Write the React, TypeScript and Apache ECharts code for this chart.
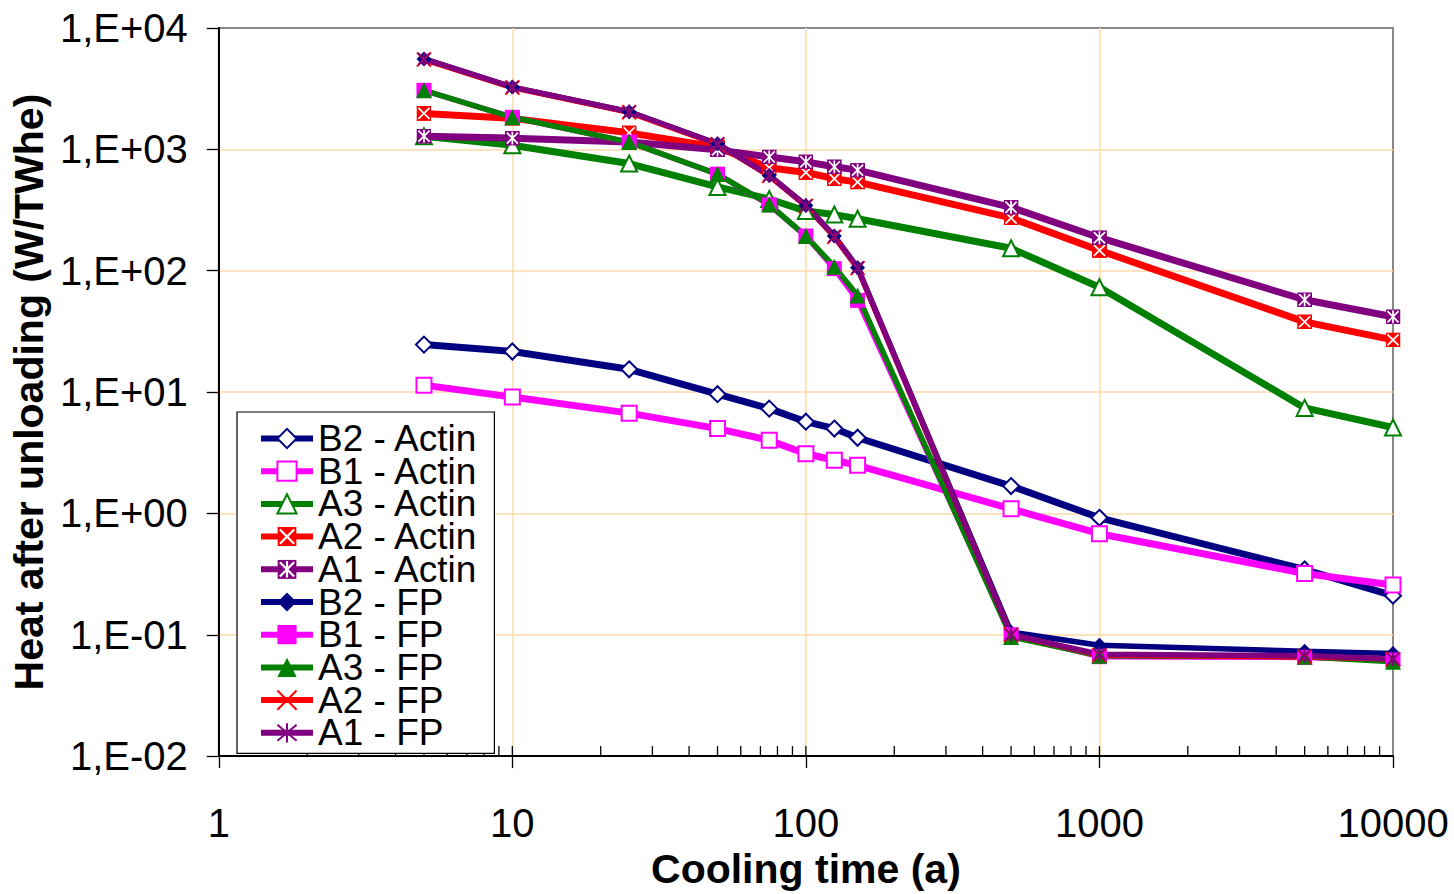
import React, { useEffect, useRef } from 'react';
import * as echarts from 'echarts';

const COOLING_TIME = [5, 10, 25, 50, 75, 100, 125, 150, 500, 1000, 5000, 10000];

const B2_ACTIN = [24.6, 21.6, 15.4, 9.6, 7.3, 5.7, 5.0, 4.2, 1.68, 0.92, 0.345, 0.21];
const B1_ACTIN = [11.4, 9.1, 6.7, 5.0, 4.0, 3.1, 2.74, 2.49, 1.09, 0.68, 0.32, 0.257];
const A3_ACTIN = [1280, 1080, 764, 490, 390, 310, 290, 268, 153, 73, 7.4, 5.1];
const A2_ACTIN = [1978, 1800, 1368, 1040, 705, 645, 573, 537, 272, 147, 37.9, 26.9];
const A1_ACTIN = [1285, 1237, 1148, 990, 866, 789, 718, 674, 333, 187, 57.6, 41.7];
const B2_FP = [5560, 3260, 2040, 1112, 610, 345, 193, 106, 0.105, 0.082, 0.073, 0.07];
const B1_FP = [3064, 1837, 1148, 625, 349, 193, 104, 57, 0.1, 0.066, 0.065, 0.062];
const A3_FP = [3064, 1837, 1148, 625, 352, 193, 108, 62.5, 0.096, 0.067, 0.066, 0.06];
const A2_FP = [5500, 3230, 2020, 1100, 605, 342, 190, 105, 0.1, 0.068, 0.066, 0.063];
const A1_FP = [5560, 3260, 2040, 1112, 610, 345, 193, 106, 0.1, 0.069, 0.067, 0.063];

const SERIES_NAMES = [
  'B2 - Actin', 'B1 - Actin', 'A3 - Actin', 'A2 - Actin', 'A1 - Actin',
  'B2 - FP', 'B1 - FP', 'A3 - FP', 'A2 - FP', 'A1 - FP',
];

const Y_TICK_LABELS = ['1,E-02', '1,E-01', '1,E+00', '1,E+01', '1,E+02', '1,E+03', '1,E+04'];
const Y_MIN_EXP = -2;
const X_TICK_LABELS = ['1', '10', '100', '1000', '10000'];
const X_INSIDE_TICKS = [
  2, 3, 4, 5, 6, 7, 8, 9, 10,
  20, 30, 40, 50, 60, 70, 80, 90, 100,
  200, 300, 400, 500, 600, 700, 800, 900, 1000,
  2000, 3000, 4000, 5000, 6000, 7000, 8000, 9000,
];

const NAVY = '#000080';
const MAGENTA = '#FF00FF';
const GREEN = '#008000';
const RED = '#FF0000';
const PURPLE = '#800080';
const FONT = '"Liberation Sans", Arial, sans-serif';

function svgIcon(bg: string, withVertical: boolean): string {
  const svg =
    `<svg xmlns="http://www.w3.org/2000/svg" width="28" height="28" viewBox="0 0 14 14">` +
    `<rect x="0" y="0" width="14" height="14" fill="${bg}"/>` +
    `<path d="M1.8,1.8L12.2,12.2M12.2,1.8L1.8,12.2${withVertical ? 'M7,1L7,13' : ''}" stroke="#FFFFFF" stroke-width="1.6" fill="none"/>` +
    `</svg>`;
  return 'image://data:image/svg+xml;charset=utf-8,' + encodeURIComponent(svg);
}

const X_PATH = 'path://M0,0L10,10M10,0L0,10';
const STAR_PATH = 'path://M0,0L10,10M10,0L0,10M5,-1L5,11';

function lineSeries(
  name: string,
  values: number[],
  color: string,
  width: number,
  symbol: string,
  symbolSize: number,
  itemStyle: any
) {
  return {
    type: 'line',
    name,
    data: COOLING_TIME.map((t, i) => [t, values[i]]),
    symbol,
    symbolSize,
    showSymbol: true,
    showAllSymbol: true,
    symbolKeepAspect: true,
    lineStyle: { color, width },
    itemStyle,
    emphasis: { disabled: true },
    silent: true,
    clip: false,
  };
}

export default function App() {
  const ref = useRef<HTMLDivElement>(null);

  useEffect(() => {
    if (!ref.current) return;
    const chart = echarts.init(ref.current, undefined, { renderer: 'svg' });
    const open = (c: string) => ({ color: '#FFFFFF', borderColor: c, borderWidth: 2 });
    const filled = (c: string) => ({ color: c, borderColor: c, borderWidth: 0 });
    const stroke = (c: string) => ({ color: c, borderColor: c, borderWidth: 2 });
    const AW = 7;
    const FW = 5.5;

    const series: any[] = [
      lineSeries(SERIES_NAMES[0], B2_ACTIN, NAVY, AW, 'diamond', 16, open(NAVY)),
      lineSeries(SERIES_NAMES[1], B1_ACTIN, MAGENTA, AW, 'rect', 15, open(MAGENTA)),
      lineSeries(SERIES_NAMES[2], A3_ACTIN, GREEN, AW, 'triangle', 16, open(GREEN)),
      lineSeries(SERIES_NAMES[3], A2_ACTIN, RED, AW, svgIcon(RED, false), 15, filled(RED)),
      lineSeries(SERIES_NAMES[4], A1_ACTIN, PURPLE, AW, svgIcon(PURPLE, true), 15, filled(PURPLE)),
      lineSeries(SERIES_NAMES[5], B2_FP, NAVY, FW, 'diamond', 15, filled(NAVY)),
      lineSeries(SERIES_NAMES[6], B1_FP, MAGENTA, FW, 'rect', 15, filled(MAGENTA)),
      lineSeries(SERIES_NAMES[7], A3_FP, GREEN, FW, 'triangle', 16, filled(GREEN)),
      lineSeries(SERIES_NAMES[8], A2_FP, RED, FW, X_PATH, 14, stroke(RED)),
      lineSeries(SERIES_NAMES[9], A1_FP, PURPLE, FW, STAR_PATH, 14, stroke(PURPLE)),
      {
        type: 'custom',
        name: 'inside ticks',
        data: X_INSIDE_TICKS.map((v) => [v, Math.pow(10, Y_MIN_EXP)]),
        silent: true,
        clip: false,
        z: 10,
        renderItem: (_p: any, api: any) => {
          const pt = api.coord([api.value(0), api.value(1)]);
          return {
            type: 'line',
            shape: { x1: pt[0], y1: pt[1], x2: pt[0], y2: pt[1] - 10 },
            style: { stroke: '#000000', lineWidth: 1.3 },
          };
        },
      },
    ];

    chart.setOption({
      animation: false,
      backgroundColor: '#FFFFFF',
      grid: {
        left: 217,
        top: 28,
        right: 61,
        bottom: 130,
        show: true,
        borderColor: '#888888',
        borderWidth: 2,
        backgroundColor: 'transparent',
      },
      legend: {
        orient: 'vertical',
        left: 237,
        top: 412,
        data: SERIES_NAMES,
        backgroundColor: '#FFFFFF',
        borderColor: '#000000',
        borderWidth: 1.2,
        borderRadius: 0,
        padding: [8, 16, 2, 21],
        itemWidth: 52,
        itemHeight: 24,
        itemGap: -4.3,
        selectedMode: false,
        lineStyle: { width: 6 },
        textStyle: { fontFamily: FONT, fontSize: 37, color: '#000000' },
        z: 20,
      },
      xAxis: {
        type: 'log',
        logBase: 10,
        min: 1,
        max: 10000,
        splitNumber: 4,
        name: 'Cooling time (a)',
        nameLocation: 'middle',
        nameGap: 91,
        nameTextStyle: { fontFamily: FONT, fontSize: 41, fontWeight: 'bold', color: '#000000' },
        axisLine: { show: true, onZero: false, lineStyle: { color: '#000000', width: 2 } },
        axisTick: { show: true, inside: false, length: 12, lineStyle: { color: '#000000', width: 1.3 } },
        minorTick: { show: false },
        axisLabel: {
          fontFamily: FONT,
          fontSize: 40,
          color: '#000000',
          margin: 47,
          formatter: (v: number) => X_TICK_LABELS[Math.round(Math.log10(v))] ?? '',
        },
        splitLine: {
          show: true,
          showMinLine: false,
          showMaxLine: false,
          lineStyle: { color: '#FFD9A8', width: 1.5 },
        },
      },
      yAxis: {
        type: 'log',
        logBase: 10,
        min: 0.01,
        max: 10000,
        splitNumber: 6,
        name: 'Heat after unloading (W/TWhe)',
        nameLocation: 'middle',
        nameGap: 167,
        nameTextStyle: { fontFamily: FONT, fontSize: 41, fontWeight: 'bold', color: '#000000' },
        axisLine: { show: true, onZero: false, lineStyle: { color: '#000000', width: 2 } },
        axisTick: { show: true, inside: false, length: 12, lineStyle: { color: '#000000', width: 1.3 } },
        axisLabel: {
          fontFamily: FONT,
          fontSize: 40,
          color: '#000000',
          margin: 31,
          formatter: (v: number) => Y_TICK_LABELS[Math.round(Math.log10(v)) - Y_MIN_EXP] ?? '',
        },
        splitLine: {
          show: true,
          showMinLine: false,
          showMaxLine: false,
          lineStyle: { color: '#FFD9A8', width: 1.5 },
        },
      },
      series,
    });

    return () => chart.dispose();
  }, []);

  return (
    <div
      ref={ref}
      style={{ position: 'fixed', left: 0, top: 0, width: 1454, height: 894, background: '#FFFFFF' }}
    />
  );
}
